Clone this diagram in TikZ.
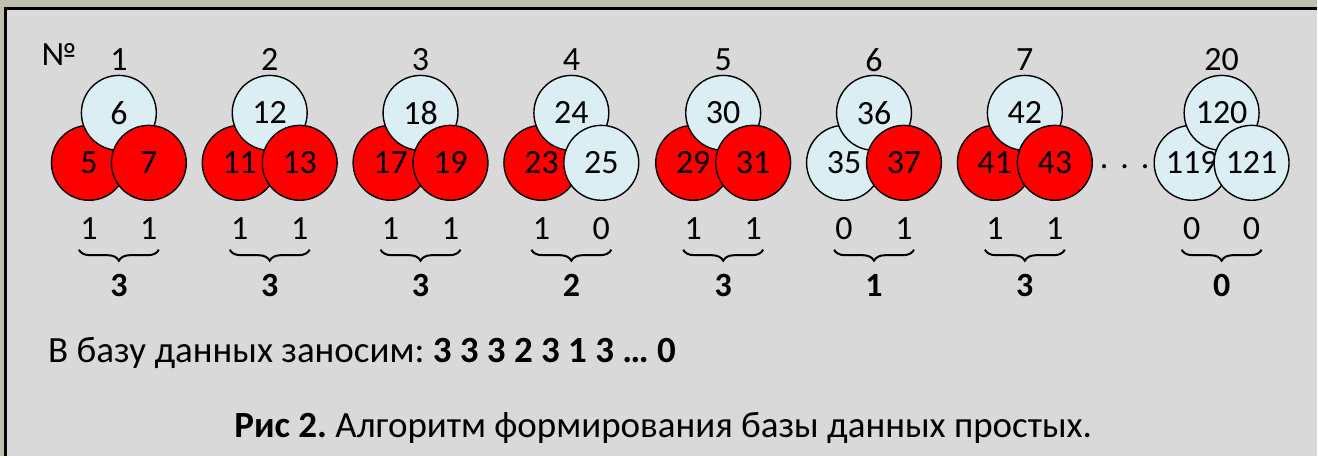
\documentclass[tikz,border=0pt]{standalone}
\usepackage{fontspec}
\setmainfont{Carlito}
\usetikzlibrary{decorations.pathreplacing,calc}
\definecolor{bandc}{RGB}{192,190,173}
\definecolor{panel}{RGB}{217,217,217}
\definecolor{pale}{RGB}{218,238,243}
\definecolor{prime}{RGB}{255,0,0}
\begin{document}
\frenchspacing
\begin{tikzpicture}[x=1pt,y=-1pt,
  ball/.style={circle,draw=black,line width=1.4pt,minimum size=75pt,inner sep=0pt,font=\fontsize{34}{40}\selectfont},
  pr/.style={ball,fill=prime},
  cp/.style={ball,fill=pale},
  lbl/.style={inner sep=0pt,font=\fontsize{34}{40}\selectfont},
  sumlbl/.style={inner sep=0pt,font=\fontsize{34}{40}\selectfont\bfseries},
  txt/.style={inner sep=0pt,font=\fontsize{37}{42}\selectfont},
  brc/.style={decorate,decoration={brace,mirror,amplitude=11pt},line width=2pt}]
\fill[bandc] (0,0) rectangle (1318,457);
\fill[panel] (5.8,8.7) rectangle (1318,457);
\draw[line width=3pt] (5.8,457) -- (5.8,8.7) -- (1318,8.7);
\useasboundingbox (0,0) rectangle (1318,457);
\node[lbl] (num) at (59,55) {№};
\foreach \g/\x/\t/\l/\r/\lc/\rc/\lb/\rb/\s in {
  1/119/6/5/7/pr/pr/1/1/3,
  2/270/12/11/13/pr/pr/1/1/3,
  3/421/18/17/19/pr/pr/1/1/3,
  4/572/24/23/25/pr/cp/1/0/2,
  5/724/30/29/31/pr/pr/1/1/3,
  6/875/36/35/37/cp/pr/0/1/1,
  7/1026/42/41/43/pr/pr/1/1/3,
  20/1223/120/119/121/cp/cp/0/0/0}{
  \node[lbl] (n\g) at (\x,60) {\g};
  \node[\lc] (l\g) at (\x-30,163) {\l};
  \node[cp] (t\g) at (\x,113) {\t};
  \node[\rc] (r\g) at (\x+30,163) {\r};
  \node[lbl] (bl\g) at (\x-30,229) {\lb};
  \node[lbl] (br\g) at (\x+30,229) {\rb};
  \draw[brc] ($(bl\g)+(-10,21)$) -- ($(br\g)+(10,21)$);
  \node[sumlbl] (s\g) at (\x,286) {\s};
}
\node[lbl] (dots) at (1126,167) {.\hspace{12pt}.\hspace{12pt}.};
\node[txt,anchor=base west] (db) at (48,363) {В базу данных заносим: \textbf{3 3 3 2 3 1 3 … 0}};
\node[txt,anchor=base] (cap) at (664,438) {\textbf{Рис 2.} Алгоритм формирования базы данных простых.};
\end{tikzpicture}
\end{document}
